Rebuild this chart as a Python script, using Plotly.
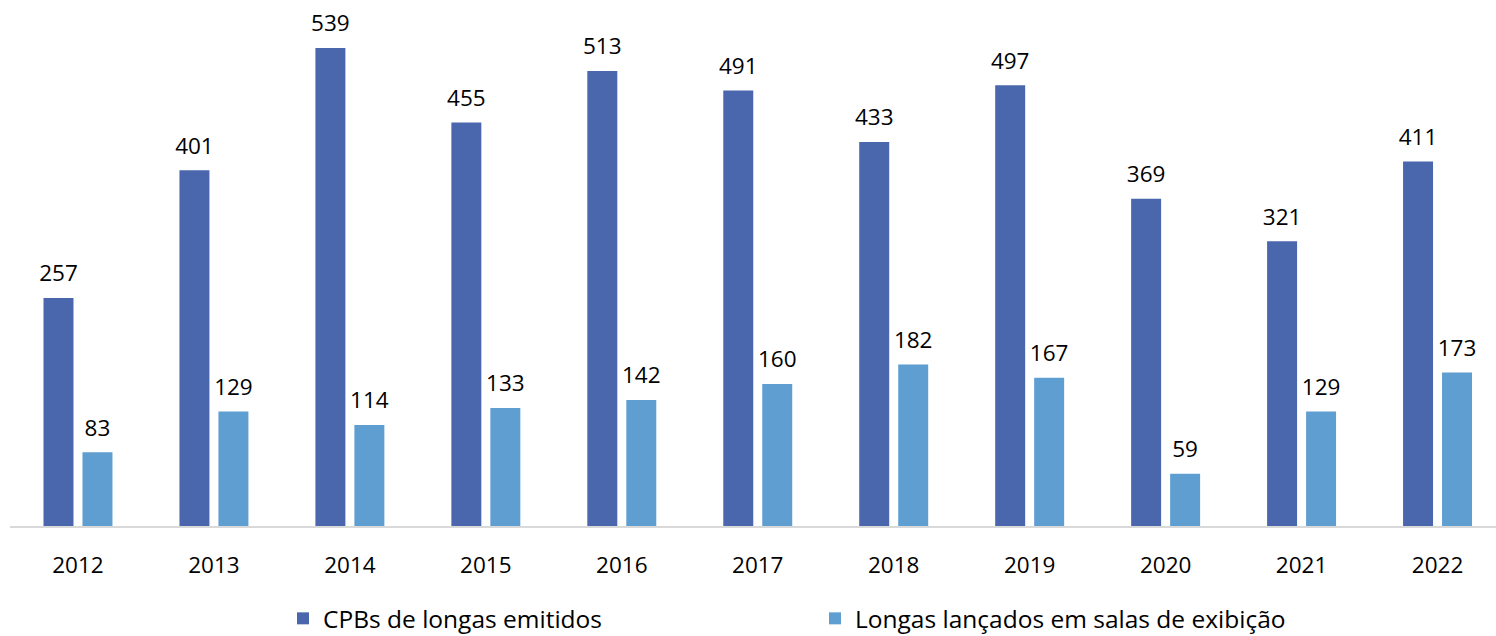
import plotly.graph_objects as go

years = ["2012", "2013", "2014", "2015", "2016", "2017", "2018", "2019", "2020", "2021", "2022"]
cpbs = [257, 401, 539, 455, 513, 491, 433, 497, 369, 321, 411]
longas = [83, 129, 114, 133, 142, 160, 182, 167, 59, 129, 173]
names = ["CPBs de longas emitidos", "Longas lançados em salas de exibição"]
colors = ["#4A66AC", "#5F9ED1"]

font = "Open Sans, Noto Sans, sans-serif"
fs = 22.5
gap = 0.4265

fig = go.Figure()
for i, (vals, name, col) in enumerate(zip([cpbs, longas], names, colors)):
    fig.add_trace(go.Bar(x=years, y=vals, name=name,
                         marker=dict(color=col, line=dict(width=0)),
                         offsetgroup=str(i), alignmentgroup="a",
                         hoverinfo="x+y"))
for i, vals in enumerate([cpbs, longas]):
    fig.add_trace(go.Scatter(x=years, y=vals, mode="markers+text", text=vals,
                             textposition="top center", cliponaxis=False,
                             marker=dict(size=16, opacity=0),
                             offsetgroup=str(i), alignmentgroup="a",
                             showlegend=False, hoverinfo="skip",
                             textfont=dict(size=fs, color="#000000", family=font)))

fig.update_layout(
    width=1496, height=636,
    margin=dict(l=10, r=0, t=10, b=110, autoexpand=False),
    paper_bgcolor="white", plot_bgcolor="white",
    barmode="group", bargap=gap, bargroupgap=0.231,
    scattermode="group", scattergap=gap,
    font=dict(family=font, size=fs, color="#000000"),
    xaxis=dict(showline=True, linecolor="#D9D9D9", linewidth=1.5, showgrid=False,
               range=[-0.5, 10.43], ticks="", ticklabelstandoff=18,
               tickfont=dict(size=fs)),
    yaxis=dict(range=[0, 581.7], visible=False, showgrid=False),
    legend=dict(orientation="h", x=0.1837, xanchor="left", y=-0.1355, yanchor="top",
                entrywidth=487, entrywidthmode="pixels", font=dict(size=24.5),
                itemwidth=30),
    showlegend=True,
)

fig.write_html("out.html", config={"displayModeBar": False},
               post_script="document.body.style.margin='0';")
